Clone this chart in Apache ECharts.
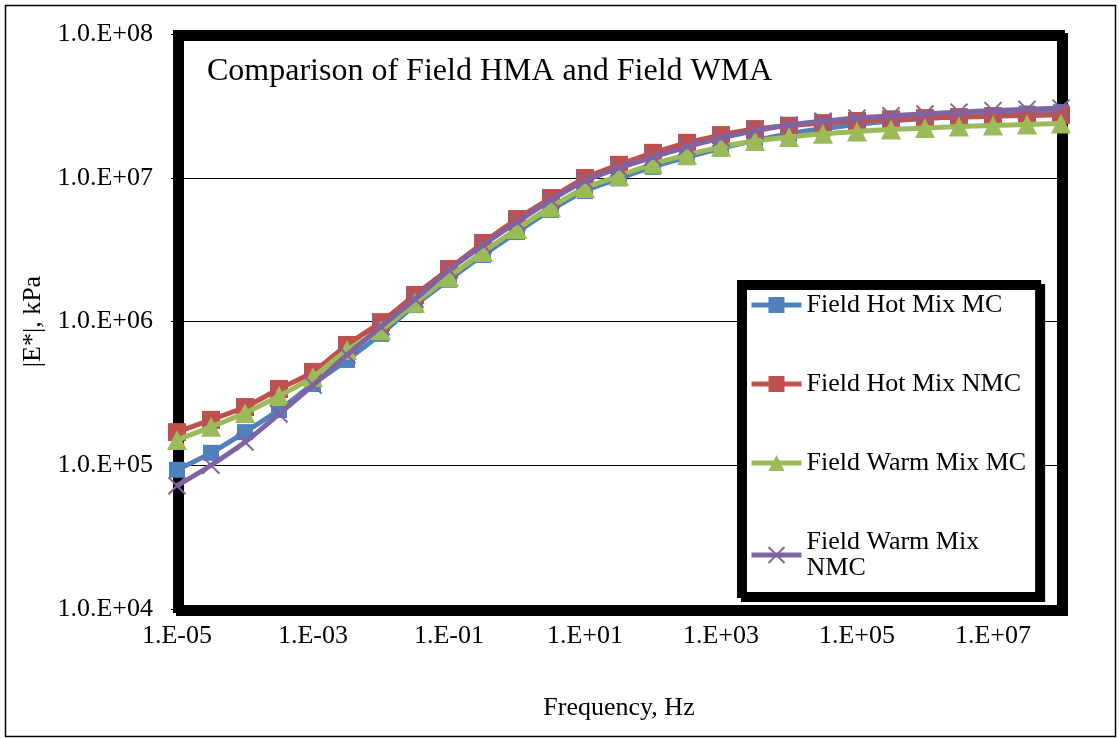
<!DOCTYPE html>
<html>
<head>
<meta charset="utf-8">
<script src="https://cdn.jsdelivr.net/npm/echarts@6/dist/echarts.min.js"></script>
<style>
html,body{margin:0;padding:0;background:#fff;}
#chart{width:1119px;height:738px;}
</style>
</head>
<body>
<div id="chart"></div>
<script>
// Frequency (Hz), half-decade steps
const frequencies = [1e-5, 3.162e-5, 1e-4, 3.162e-4, 1e-3, 3.162e-3, 1e-2, 3.162e-2, 1e-1, 3.162e-1,
  1, 3.162, 10, 31.62, 100, 316.2, 1e3, 3162, 1e4, 31620, 1e5, 316200, 1e6, 3162000, 1e7, 31620000, 1e8];

const seriesNames = ['Field Hot Mix MC', 'Field Hot Mix NMC', 'Field Warm Mix MC', 'Field Warm Mix NMC'];

const hotMixMC = [9.3e4, 1.22e5, 1.70e5, 2.42e5, 3.67e5, 5.4e5, 8.2e5, 1.30e6, 1.95e6, 2.90e6,
  4.19e6, 5.97e6, 8.09e6, 9.9e6, 1.19e7, 1.39e7, 1.60e7, 1.82e7, 2.02e7, 2.20e7,
  2.35e7, 2.48e7, 2.58e7, 2.66e7, 2.73e7, 2.80e7, 2.86e7];

const hotMixNMC = [1.70e5, 2.07e5, 2.54e5, 3.39e5, 4.46e5, 6.87e5, 9.9e5, 1.53e6, 2.32e6, 3.52e6,
  5.16e6, 7.23e6, 9.96e6, 1.23e7, 1.49e7, 1.75e7, 1.98e7, 2.18e7, 2.30e7, 2.40e7,
  2.48e7, 2.55e7, 2.60e7, 2.64e7, 2.68e7, 2.71e7, 2.74e7];

const warmMixMC = [1.50e5, 1.85e5, 2.31e5, 3.03e5, 4.11e5, 6.34e5, 8.7e5, 1.35e6, 2.04e6, 3.04e6,
  4.40e6, 6.26e6, 8.49e6, 1.03e7, 1.25e7, 1.44e7, 1.64e7, 1.80e7, 1.92e7, 2.02e7,
  2.10e7, 2.17e7, 2.22e7, 2.27e7, 2.31e7, 2.35e7, 2.38e7];

const warmMixNMC = [7.2e4, 1.0e5, 1.45e5, 2.27e5, 3.61e5, 5.85e5, 9.2e5, 1.43e6, 2.28e6, 3.40e6,
  4.92e6, 7.0e6, 9.5e6, 1.17e7, 1.39e7, 1.64e7, 1.89e7, 2.12e7, 2.33e7, 2.47e7,
  2.60e7, 2.70e7, 2.78e7, 2.86e7, 2.93e7, 2.99e7, 3.05e7];

const chartTitle = 'Comparison of Field HMA and Field WMA';
const xAxisName = 'Frequency, Hz';
const yAxisName = '|E*|, kPa';

function pad2(n){ const a = Math.abs(n); return (n < 0 ? '-' : '+') + (a < 10 ? '0' : '') + a; }
function expOf(v){ return Math.round(Math.log10(v)); }

const FONT = '"Liberation Serif", "Times New Roman", serif';
const colors = ['#4F81BD', '#C0504D', '#9BBB59', '#8064A2'];
const symbols = ['rect', 'rect', 'triangle', 'path://M0,0L10,10M10,0L0,10'];
const symbolSizes = [16, 18, 20, 17];
const dataSets = [hotMixMC, hotMixNMC, warmMixMC, warmMixNMC];

const chart = echarts.init(document.getElementById('chart'), null, {renderer: 'canvas'});

const series = seriesNames.map((name, i) => ({
  name: name,
  type: 'line',
  data: frequencies.map((f, k) => [f, dataSets[i][k]]),
  smooth: 0.3,
  symbol: symbols[i],
  symbolSize: symbolSizes[i],
  showAllSymbol: true,
  lineStyle: {color: colors[i], width: 5},
  itemStyle: i === 3 ? {color: 'rgba(0,0,0,0)', borderColor: colors[i], borderWidth: 2} : {color: colors[i]},
  emphasis: {disabled: true},
  z: 2 + i
}));

chart.setOption({
  animation: false,
  backgroundColor: '#fff',
  textStyle: {fontFamily: FONT},
  title: {
    text: chartTitle,
    left: 207, top: 56, padding: 0,
    textStyle: {fontFamily: FONT, fontSize: 32, fontWeight: 'normal', color: '#000'}
  },
  graphic: [{
    type: 'rect', z: -10, silent: true,
    shape: {x: 5.5, y: 5.5, width: 1110, height: 731},
    style: {fill: 'none', stroke: '#000', lineWidth: 1.5}
  }],
  grid: {
    left: 177, top: 34, width: 884, height: 575,
    show: true, backgroundColor: '#fff',
    borderColor: '#000', borderWidth: 8,
    shadowColor: '#000', shadowOffsetX: 3, shadowOffsetY: 3, shadowBlur: 0
  },
  legend: {
    orient: 'vertical',
    left: 740, top: 283,
    padding: [9, 12, 14, 9],
    backgroundColor: '#fff',
    borderColor: '#000', borderWidth: 6,
    shadowColor: '#000', shadowOffsetX: 4, shadowOffsetY: 4, shadowBlur: 0,
    itemWidth: 50, itemHeight: 20, itemGap: 53,
    lineStyle: {width: 5},
    textStyle: {fontFamily: FONT, fontSize: 26, color: '#000', lineHeight: 26},
    formatter: function(n){ return n === 'Field Warm Mix NMC' ? 'Field Warm Mix\nNMC' : n; },
    data: seriesNames
  },
  xAxis: {
    type: 'log', logBase: 10,
    min: 1e-5, max: 1e8, interval: 2,
    name: xAxisName, nameLocation: 'middle', nameGap: 86,
    nameTextStyle: {fontFamily: FONT, fontSize: 26, color: '#000'},
    axisLine: {show: false},
    axisTick: {show: true, inside: false, length: 5, lineStyle: {color: '#000', width: 1}},
    axisLabel: {
      margin: 14, fontFamily: FONT, fontSize: 26, color: '#000',
      formatter: function(v){ const e = expOf(v); return (e % 2 !== 0) ? '1.E' + pad2(e) : ''; }
    },
    splitLine: {show: false},
    minorTick: {show: false}
  },
  yAxis: {
    type: 'log', logBase: 10,
    min: 1e4, max: 1e8,
    name: yAxisName, nameLocation: 'middle', nameGap: 117, nameRotate: 90,
    nameTextStyle: {fontFamily: FONT, fontSize: 26, color: '#000'},
    axisLine: {show: false},
    axisTick: {show: true, inside: false, length: 6, lineStyle: {color: '#000', width: 1}},
    axisLabel: {
      margin: 24, fontFamily: FONT, fontSize: 26, color: '#000',
      formatter: function(v){ return '1.0.E' + pad2(expOf(v)); }
    },
    splitLine: {show: true, lineStyle: {color: '#000', width: 1}}
  },
  series: series
});
</script>
</body>
</html>
